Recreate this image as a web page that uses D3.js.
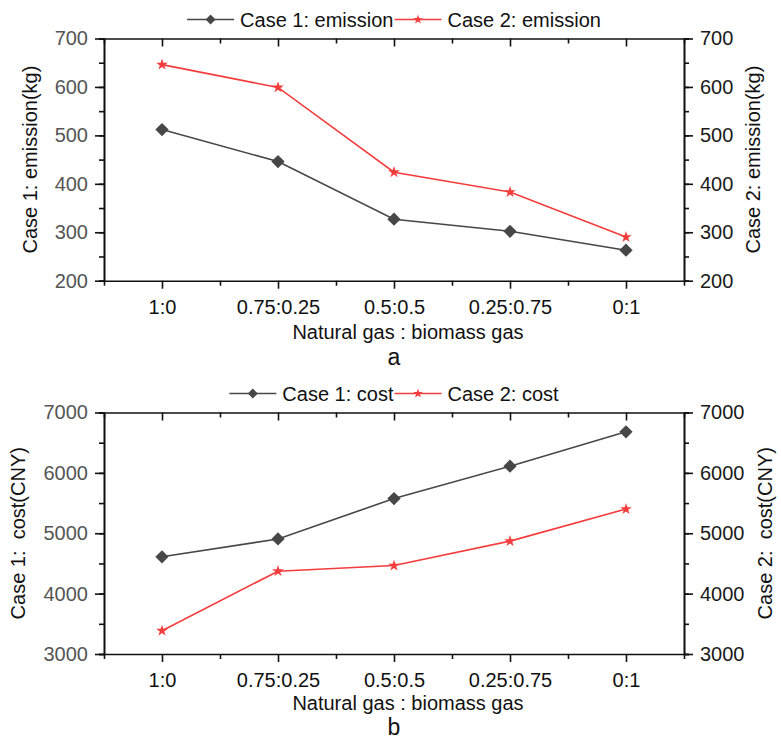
<!DOCTYPE html>
<html><head><meta charset="utf-8">
<script src="https://cdn.jsdelivr.net/npm/d3@7"></script>
<style>
body{margin:0;background:#fff;}
svg{display:block;font-family:"Liberation Sans",Arial,sans-serif;}
</style></head>
<body><svg id="c" width="781" height="742"></svg>
<script>
const categories = ["1:0","0.75:0.25","0.5:0.5","0.25:0.75","0:1"];
const emissionCase1 = [512, 446, 327, 302, 263];
const emissionCase2 = [646, 599, 424, 383, 290];
const costCase1 = [4610, 4905, 5575, 6110, 6680];
const costCase2 = [3385, 4372, 4465, 4870, 5400];
const emissionTicks = [200,300,400,500,600,700];
const costTicks = [3000,4000,5000,6000,7000];

const svg = d3.select("#c");
const L = 104, R = 684;
const C1 = "#474747", C2 = "#f43c3c";
const fmt = d3.format("d");

const x = d3.scalePoint().domain(categories).range([L, R]).padding(0.5);
const step = x.step();
const minorX = d3.range(0, categories.length + 1).map(i => L + i * step);

function panel(o) {
  const g = svg.append("g");
  const y = d3.scaleLinear().domain(o.domain).range([o.bottom, o.top]);
  const minorY = d3.range(o.domain[0], o.domain[1] + 1e-9, o.minorStep);
  const axStyle = sel => { sel.selectAll("path,line").attr("stroke", "#111").attr("stroke-width", 1.6); };

  g.append("g").attr("transform", `translate(${L},0)`)
    .call(d3.axisLeft(y).tickValues(minorY).tickSize(5).tickFormat("")).call(axStyle);
  g.append("g").attr("transform", `translate(${R},0)`)
    .call(d3.axisRight(y).tickValues(minorY).tickSize(5).tickFormat("")).call(axStyle);
  const yl = g.append("g").attr("transform", `translate(${L},0)`)
    .call(d3.axisLeft(y).tickValues(o.ticks).tickFormat(fmt).tickSize(9).tickSizeOuter(0).tickPadding(7)).call(axStyle);
  yl.selectAll("text").attr("font-size", 20).attr("fill", "#555").attr("font-family", "Liberation Sans, Arial");
  const yr = g.append("g").attr("transform", `translate(${R},0)`)
    .call(d3.axisRight(y).tickValues(o.ticks).tickFormat(fmt).tickSize(9).tickSizeOuter(0).tickPadding(7)).call(axStyle);
  yr.selectAll("text").attr("font-size", 20).attr("fill", "#1a1a1a").attr("font-family", "Liberation Sans, Arial");

  const xs = d3.scaleLinear().domain([L, R]).range([L, R]);
  g.append("g").attr("transform", `translate(0,${o.bottom})`)
    .call(d3.axisBottom(xs).tickValues(minorX).tickSize(5).tickSizeOuter(0).tickFormat("")).call(axStyle);
  g.append("g").attr("transform", `translate(0,${o.top})`)
    .call(d3.axisBottom(xs).tickValues(minorX).tickSize(5).tickSizeOuter(0).tickFormat("")).call(axStyle);
  const xb = g.append("g").attr("transform", `translate(0,${o.bottom})`)
    .call(d3.axisBottom(x).tickSize(8).tickSizeOuter(0).tickPadding(11)).call(axStyle);
  xb.select(".domain").remove();
  xb.selectAll("text").attr("font-size", 20).attr("fill", "#111").attr("font-family", "Liberation Sans, Arial");
  const xt = g.append("g").attr("transform", `translate(0,${o.top})`)
    .call(d3.axisBottom(x).tickSize(8).tickFormat("")).call(axStyle);
  xt.select(".domain").remove();

  g.append("text").attr("transform", `translate(${o.leftTitleX},${(o.top + o.bottom) / 2}) rotate(-90)`)
    .attr("text-anchor", "middle").attr("font-size", 20).attr("fill", "#111").style("white-space", "pre").text(o.leftTitle);
  g.append("text").attr("transform", `translate(${o.rightTitleX},${(o.top + o.bottom) / 2}) rotate(-90)`)
    .attr("text-anchor", "middle").attr("font-size", 20).attr("fill", "#111").style("white-space", "pre").text(o.rightTitle);
  g.append("text").attr("x", 408).attr("y", o.bottom + o.titleDy).attr("text-anchor", "middle")
    .attr("font-size", 20).attr("fill", "#111").text("Natural gas : biomass gas");
  g.append("text").attr("x", 394).attr("y", o.bottom + o.letterDy).attr("text-anchor", "middle")
    .attr("font-size", 23).attr("fill", "#111").text(o.letter);

  const line = d3.line().x((d, i) => x(categories[i])).y(d => y(d));
  g.append("path").datum(o.s1).attr("d", line).attr("fill", "none").attr("stroke", C1).attr("stroke-width", 1.6);
  g.append("path").datum(o.s2).attr("d", line).attr("fill", "none").attr("stroke", C2).attr("stroke-width", 1.6);
  const dia = d3.symbol().type(d3.symbolSquare).size(88);
  const star = d3.symbol().type(d3.symbolStar).size(42);
  g.selectAll(".m1").data(o.s1).join("path")
    .attr("d", dia).attr("fill", C1)
    .attr("transform", (d, i) => `translate(${x(categories[i])},${y(d)}) rotate(45)`);
  g.selectAll(".m2").data(o.s2).join("path")
    .attr("d", star).attr("fill", C2)
    .attr("transform", (d, i) => `translate(${x(categories[i])},${y(d)})`);

  const lg = g.append("g");
  const ly = o.top - 19;
  const labels = o.legend;
  const lineW = 47, gap = 6;
  const t1 = lg.append("text").attr("font-size", 20).attr("fill", "#111").text(labels[0]);
  const t2 = lg.append("text").attr("font-size", 20).attr("fill", "#111").text(labels[1]);
  const w1 = t1.node().getComputedTextLength(), w2 = t2.node().getComputedTextLength();
  const total = lineW + gap + w1 + 1 + lineW + gap + w2;
  let cx = 394 - total / 2;
  lg.append("line").attr("x1", cx).attr("x2", cx + lineW).attr("y1", ly).attr("y2", ly).attr("stroke", C1).attr("stroke-width", 1.6);
  lg.append("path").attr("d", d3.symbol().type(d3.symbolSquare).size(50)).attr("fill", C1)
    .attr("transform", `translate(${cx + lineW / 2},${ly}) rotate(45)`);
  t1.attr("x", cx + lineW + gap).attr("y", ly + 7);
  cx += lineW + gap + w1 + 1;
  lg.append("line").attr("x1", cx).attr("x2", cx + lineW).attr("y1", ly).attr("y2", ly).attr("stroke", C2).attr("stroke-width", 1.6);
  lg.append("path").attr("d", d3.symbol().type(d3.symbolStar).size(28)).attr("fill", C2)
    .attr("transform", `translate(${cx + lineW / 2},${ly})`);
  t2.attr("x", cx + lineW + gap).attr("y", ly + 7);
}

panel({ domain: [200, 700], ticks: emissionTicks, minorStep: 50, top: 38.5, bottom: 280.7,
  s1: emissionCase1, s2: emissionCase2, leftTitle: "Case 1: emission(kg)", rightTitle: "Case 2: emission(kg)",
  leftTitleX: 37, rightTitleX: 760, letter: "a", legend: ["Case 1: emission", "Case 2: emission"],
  titleDy: 58.5, letterDy: 84 });
panel({ domain: [3000, 7000], ticks: costTicks, minorStep: 500, top: 412.5, bottom: 654,
  s1: costCase1, s2: costCase2, leftTitle: "Case 1:  cost(CNY)", rightTitle: "Case 2:  cost(CNY)",
  leftTitleX: 25, rightTitleX: 772, letter: "b", legend: ["Case 1: cost", "Case 2: cost"],
  titleDy: 56, letterDy: 81 });
</script></body></html>
